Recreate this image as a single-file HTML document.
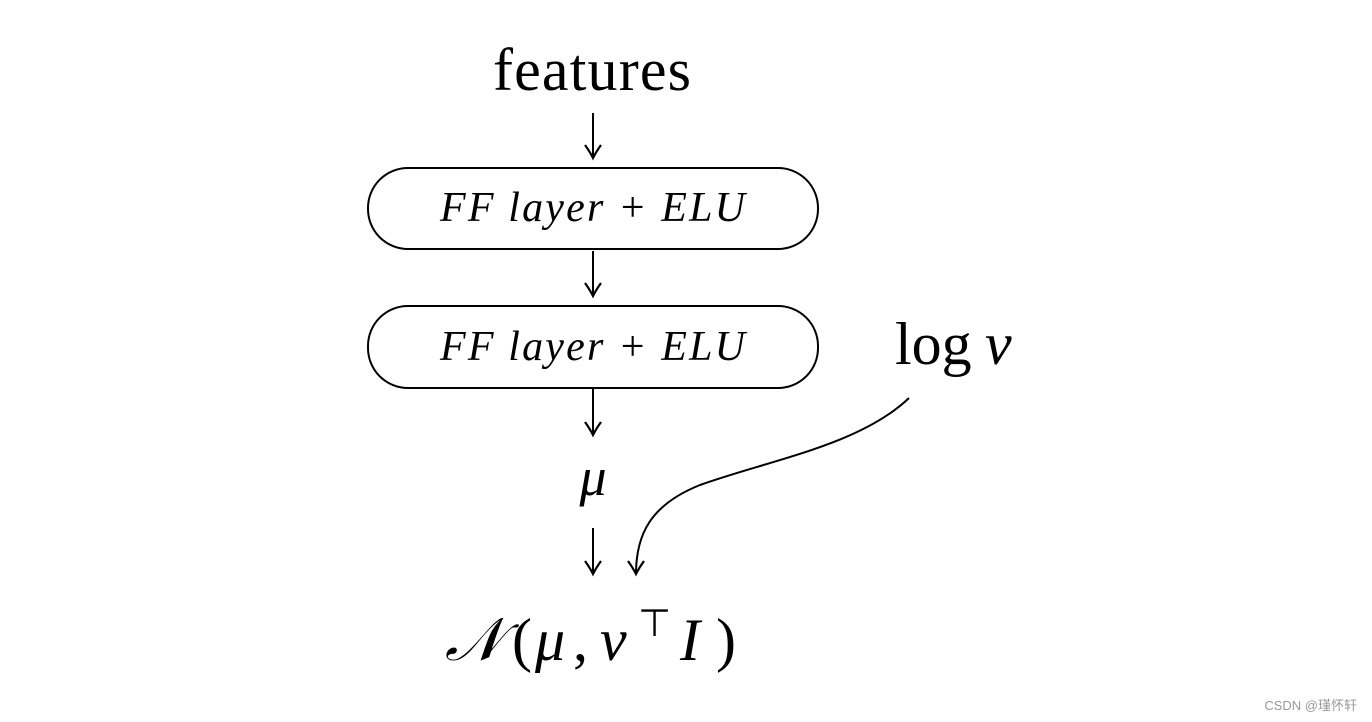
<!DOCTYPE html>
<html><head><meta charset="utf-8"><style>
html,body{margin:0;padding:0;background:#fff;}
svg{display:block}
</style></head><body>
<svg width="1372" height="722" viewBox="0 0 1372 722" xmlns="http://www.w3.org/2000/svg">
<defs>
<marker id="a" markerWidth="18" markerHeight="18" refX="15" refY="9" orient="auto" markerUnits="userSpaceOnUse" viewBox="0 0 18 18">
<path d="M2,1 Q9,6 15,9 Q9,12 2,17" fill="none" stroke="#000" stroke-width="2.2"/>
</marker>
</defs>
<g font-family="'Liberation Serif', serif" fill="#000">
<text x="592" y="90" font-size="60" text-anchor="middle" textLength="198">features</text>
<rect x="368" y="168" width="450" height="81" rx="40" fill="none" stroke="#000" stroke-width="2"/>
<rect x="368" y="306" width="450" height="82" rx="40" fill="none" stroke="#000" stroke-width="2"/>
<text x="440" y="221" font-size="42" font-style="italic" textLength="305">FF layer + ELU</text>
<text x="440" y="360" font-size="42" font-style="italic" textLength="305">FF layer + ELU</text>
<text x="895" y="364" font-size="60">log</text>
<text x="985" y="364" font-size="60" font-style="italic">ν</text>
<text x="593" y="495" font-size="54" font-style="italic" text-anchor="middle">μ</text>
<text x="445" y="660" font-size="60" font-style="italic">𝒩</text>
<text x="512" y="660" font-size="60">(</text>
<text x="535" y="660" font-size="60" font-style="italic">μ</text>
<text x="573" y="660" font-size="60">,</text>
<text x="600" y="660" font-size="60" font-style="italic">ν</text>
<text x="638" y="636" font-size="38">⊤</text>
<text x="680" y="660" font-size="60" font-style="italic">I</text>
<text x="716" y="660" font-size="60">)</text>
</g>
<g stroke="#000" stroke-width="2" fill="none">
<line x1="593" y1="113" x2="593" y2="158" marker-end="url(#a)"/>
<line x1="593" y1="251" x2="593" y2="296" marker-end="url(#a)"/>
<line x1="593" y1="389" x2="593" y2="435" marker-end="url(#a)"/>
<line x1="593" y1="528" x2="593" y2="574" marker-end="url(#a)"/>
<path d="M909,398 C860,445 770,460 700,485 C650,505 636,535 636,574" marker-end="url(#a)"/>
</g>
<text x="1357" y="710" font-family="'Liberation Sans','Noto Sans CJK SC',sans-serif" font-size="13" fill="#999" text-anchor="end">CSDN @瑾怀轩</text>
</svg>
</body></html>
